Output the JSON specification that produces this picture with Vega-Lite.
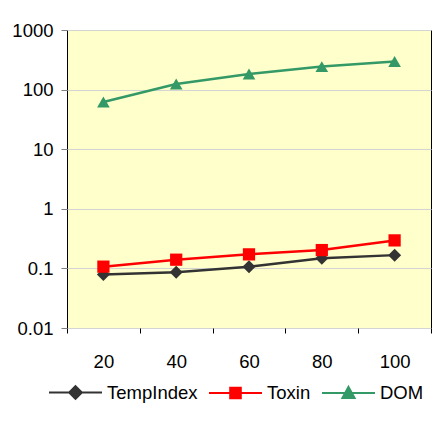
{
  "$schema": "https://vega.github.io/schema/vega-lite/v6.json",
  "width": 364,
  "height": 298,
  "autosize": "none",
  "padding": {"left": 67, "top": 30, "right": 16, "bottom": 93},
  "background": "white",
  "data": {
    "values": [
      {"series": "TempIndex", "x": 20, "y": 0.079},
      {"series": "TempIndex", "x": 40, "y": 0.086},
      {"series": "TempIndex", "x": 60, "y": 0.107},
      {"series": "TempIndex", "x": 80, "y": 0.148},
      {"series": "TempIndex", "x": 100, "y": 0.167},
      {"series": "Toxin", "x": 20, "y": 0.107},
      {"series": "Toxin", "x": 40, "y": 0.14},
      {"series": "Toxin", "x": 60, "y": 0.172},
      {"series": "Toxin", "x": 80, "y": 0.203},
      {"series": "Toxin", "x": 100, "y": 0.295},
      {"series": "DOM", "x": 20, "y": 62},
      {"series": "DOM", "x": 40, "y": 124},
      {"series": "DOM", "x": 60, "y": 183},
      {"series": "DOM", "x": 80, "y": 243},
      {"series": "DOM", "x": 100, "y": 295}
    ]
  },
  "encoding": {
    "x": {
      "field": "x",
      "type": "ordinal",
      "scale": {"type": "band", "paddingInner": 0, "paddingOuter": 0},
      "axis": {
        "title": null,
        "labelAngle": 0,
        "tickBand": "extent",
        "domain": false,
        "ticks": true,
        "tickSize": 5,
        "tickColor": "black",
        "labelPadding": 19,
        "labelFontSize": 18.5,
        "grid": false
      }
    },
    "y": {
      "field": "y",
      "type": "quantitative",
      "scale": {"type": "log", "domain": [0.01, 1000], "nice": false},
      "axis": {
        "title": null,
        "values": [0.01, 0.1, 1, 10, 100, 1000],
        "format": "~g",
        "domain": false,
        "tickSize": 6,
        "tickColor": "#808080",
        "labelPadding": 8,
        "labelFontSize": 18.5,
        "grid": true,
        "gridColor": "#d4d4d4",
        "gridWidth": 1.2
      }
    },
    "color": {
      "field": "series",
      "type": "nominal",
      "scale": {
        "domain": ["TempIndex", "Toxin", "DOM"],
        "range": ["#333333", "#ff0000", "#339966"]
      },
      "legend": {
        "title": null,
        "orient": "none",
        "direction": "horizontal",
        "legendX": -19,
        "legendY": 335,
        "symbolSize": 2809,
        "symbolStrokeWidth": 2,
        "labelFontSize": 18.5,
        "labelOffset": 4,
        "columnPadding": 7,
        "encode": {
          "symbols": {
            "update": {
              "shape": {"signal": "datum.value === 'TempIndex' ? 'M-1,0H1M0,-0.24L0.24,0L0,0.24L-0.24,0Z' : datum.value === 'Toxin' ? 'M-1,0H1M-0.2,-0.2H0.2V0.2H-0.2Z' : 'M-1,0H1M0,-0.23L0.23,0.19H-0.23Z'"},
              "fill": {"scale": "color", "field": "value"},
              "stroke": {"scale": "color", "field": "value"},
              "strokeWidth": {"value": 2},
              "opacity": {"value": 1}
            }
          }
        }
      }
    }
  },
  "layer": [
    {
      "mark": {"type": "line", "strokeWidth": 2.5}
    },
    {
      "transform": [{"filter": "datum.series === 'TempIndex'"}],
      "mark": {"type": "point", "filled": true, "opacity": 1, "shape": "diamond", "size": 169}
    },
    {
      "transform": [{"filter": "datum.series === 'Toxin'"}],
      "mark": {"type": "point", "filled": true, "opacity": 1, "shape": "square", "size": 150}
    },
    {
      "transform": [{"filter": "datum.series === 'DOM'"}],
      "mark": {"type": "point", "filled": true, "opacity": 1, "shape": "triangle-up", "size": 160}
    }
  ],
  "config": {
    "font": "Liberation Sans",
    "view": {"fill": "#ffffcc", "stroke": "black", "strokeWidth": 1},
    "axis": {"labelColor": "black", "labelFont": "Liberation Sans"},
    "legend": {"labelColor": "black", "labelFont": "Liberation Sans"}
  }
}
